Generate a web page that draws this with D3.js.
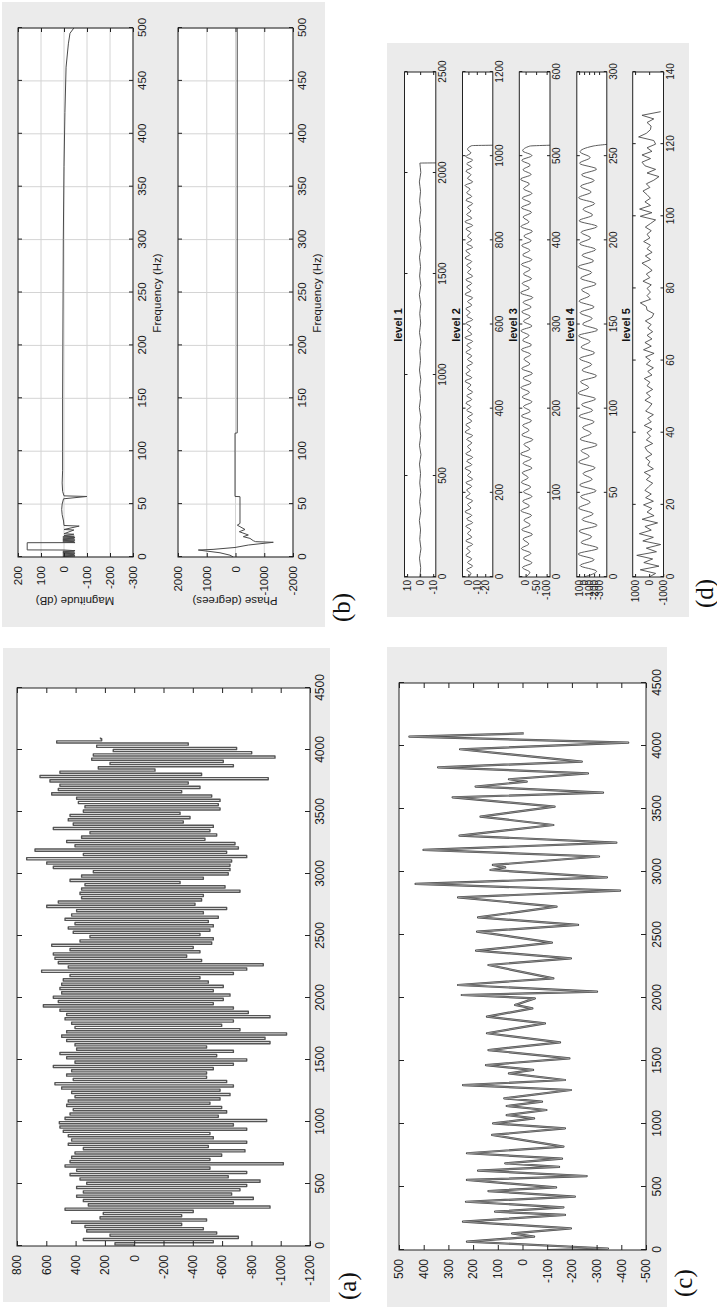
<!DOCTYPE html>
<html>
<head>
<meta charset="utf-8">
<script src="https://cdn.jsdelivr.net/npm/d3@7"></script>
<style>
body { margin: 0; background: #fff; }
</style>
</head>
<body>
<svg width="717" height="1308"></svg>
<script>
// (a) raw signal: alternating extremes, read bar by bar, evenly spaced in samples
var aLength = 4100;
var aSignal = [0,
  131,-540, 347,-711, 165,-563, 324,-472, 336,-324, 427,-494, 233,-324, 211,-403, 472,-927, 313,-677,
  347,-813, 393,-665, 347,-722, 393,-768, 324,-859, 370,-642, 438,-768, 393,-517, 472,-1018, 438,-517,
  427,-597, 404,-756, 347,-506, 450,-768, 427,-540, 450,-517, 484,-768, 507,-677, 511,-904, 472,-574,
  438,-631, 416,-597, 461,-517, 450,-586, 404,-654, 427,-586, 495,-677, 541,-631, 416,-494,
  461,-494, 427,-540, 552,-677, 404,-768, 461,-563, 507,-677, 393,-494, 404,-927, 461,-893, 495,-1040,
  461,-722, 404,-597, 427,-677, 472,-927, 461,-779, 507,-677, 620,-540, 518,-608, 552,-654, 495,-540,
  507,-608, 495,-506, 484,-449, 438,-677,
  632,-768, 450,-881, 518,-460, 541,-358, 552,-449, 438,-403, 563,-529, 370,-540, 302,-449, 416,-517,
  450,-540, 404,-506, 472,-574, 427,-472, 393,-631, 597,-415, 518,-460, 359,-472, 370,-722, 359,-620,
  336,-313, 438,-472, 359,-642, 279,-654, 552,-654, 597,-665, 734,-768, 347,-631, 677,-711, 404,-688,
  461,-483, 359,-563, 302,-517, 552,-540, 416,-335, 450,-381, 438,-313, 347,-586, 336,-574, 381,-586,
  393,-529, 563,-324, 518,-449, 507,-369, 575,-915, 643,-460, 507,-142, 245,-677, 165,-608, 290,-961,
  279,-802, 143,-699, 256,-369, 529,222, 230];
var aXTicks = d3.range(0, 4501, 500);
var aYTicks = d3.range(-1200, 801, 200);

// (b) magnitude and phase response [Hz, value]
var magPoints = [[0,-48],[0.6,5],[1.2,-48],[1.8,5],[2.4,-45],[3.0,5],[3.6,-48],[4.2,5],[4.8,-45],[5.4,5],[6.0,-48],
  [6.6,0],[6.7,160],[13.5,160],[13.6,-48],[14.2,5],[14.8,-45],[15.4,5],[16.0,-48],[16.6,5],[17.2,-45],[17.8,5],
  [18.4,-48],[19.0,5],[19.6,-45],[20.2,0],[21.5,-43],[22.0,0],[25.5,-43],[26.0,0],[29.2,-66],[29.8,0],
  [34,2],[40,8],[45,10],[50,8],[55,2],[57.2,-100],[57.8,0],[62,6],[70,8],[82,6],[100,6],[150,6],[200,5],
  [250,4],[300,3],[369,0],[420,-4],[463,-9],[485,-19],[495,-26],[500,-43]];
var phasePoints = [[0,76],[1.7,191],[4,539],[6.6,1293],[7.2,782],[9,17],[11.3,-446],[13.9,-1315],[14.5,-700],
  [15.4,-620],[17.6,-504],[19.2,-272],[20.8,-446],[23.9,-133],[26,-330],[30.1,-63],[31.7,-156],[57,-156],
  [57.3,17],[117,17],[117.3,-60],[500,-60]];
var freqTicks = d3.range(0, 501, 50);
var magTicks = [-300, -200, -100, 0, 100, 200];
var phaseTicks = [-2000, -1000, 0, 1000, 2000];

// (c) denoised signal: turning points [sample, value]
var cPeaks = [[0,-100],[12,-346],[66,225],[106,-47],[132,42],[172,-196],[225,241],[278,-172],[304,111],
  [339,-166],[383,229],[423,-212],[468,138],[497,-136],[556,225],[587,-260],[630,180],[660,-148],[688,70],
  [725,-160],[768,225],[821,-166],[913,123],[966,-172],[1005,119],[1045,-47],[1071,64],[1111,-97],[1143,64],
  [1177,-79],[1204,74],[1270,-196],[1309,241],[1349,-172],[1402,55],[1429,-43],[1468,148],[1521,-190],
  [1587,138],[1648,-152],[1720,144],[1799,-91],[1852,144],[1918,-40],[1945,30],[1997,-50],[2024,246],
  [2050,-302],[2103,261],[2156,-125],[2262,138],[2315,-196],[2376,188],[2439,-119],[2527,184],[2580,-225],
  [2640,180],[2725,-138],[2799,261],[2852,-395],[2905,433],[2958,-342],[3016,130],[3037,70],[3056,120],
  [3123,-310],[3175,401],[3233,-380],[3289,255],[3373,-125],[3440,170],[3519,-130],[3593,283],[3630,-326],
  [3678,190],[3717,-17],[3736,55],[3783,-265],[3831,342],[3876,-240],[3974,253],[4027,-428],[4074,458],[4100,-5]];
var cYTicks = d3.range(-500, 501, 100);

// (d) wavelet detail levels
var level1 = [0.2,-0.4,0.5,-0.6,0.3,-0.3,0.6,-0.5,0.4,-0.5,0.3,-0.3,0.5,-0.6,0.5,-0.4,0.3,-0.5,0.6,-0.3,0.4,-0.5,
  0.5,-0.3,0.3,-0.6,0.5,-0.4,0.3,-0.5,0.6,-0.5,0.4,-0.3,0.5,-0.6,0.3,-0.4,0.5,-0.5,0.4,-0.3,0.6,-0.5,0.2];
var level2 = [0,-3,2,-5,1,-4,3,-2,2,-5,3,-4,1,-3,3,-5,2,-4,4,-3,1,-5,3,-2,2,-4,3,-5,1,-3,4,-4,2,-5,3,-3,1,-4,2,-5,
  4,-2,3,-4,1,-5,2,-3,3,-4,2,-5,1,-3,4,-4,3,-2,2,-5,1,-4,3,-3,2,-5,4,-4,1,-3,3,-5,2,-2,3,-4,1,-5,4,-3,2,-4,3,-5,
  1,-3,2,-4,4,-2,3,-5,2,-4,1,-3,3,-5,4,-4,2,-3,1,-5,3,-4,2,-2,4,-5,1,-3,3,-4,2,-5,3,-3,1,-4];
var level3 = [0,-20,15,-30,10,-25,20,-15,12,-32,18,-22,8,-28,22,-18,14,-30,10,-24,20,-12,16,-30,12,-26,24,-20,8,-34,
  18,-16,14,-28,20,-22,10,-30,16,-18,22,-26,12,-32,18,-20,8,-24,20,-28,14,-16,22,-30,10,-22,18,-26,12,-34,24,-18,
  16,-28,10,-22,20,-30,14,-20,18,-26,8,-32,22,-16,12,-28,20,-24,16,-30,10,-18,24,-26,12,-22,18,-30,14,-20];
var level4 = [0,-250,80,-200,120,-280,60,-150,100,-260,40,-180,110,-120,70,-240,90,-160,20,-220,110,-100,60,-260,
  80,-140,30,-200,100,-170,50,-230,120,-90,70,-250,40,-150,90,-210,60,-120,110,-270,30,-160,80,-200,100,-110,50,
  -240,70,-150,120,-190,40,-230,90,-130,60,-260,100,-170,20,-210,110,-140,70,-200,50,-250,90,-120,80,-180];
var level5 = [0,-460,630,-700,380,-250,880,-520,200,-820,450,-300,700,-150,300,-600,500,-350,150,-200,
  400,-300,250,-150,300,50,-250,200,-100,350,-300,100,-50,250,-200,150,300,-250,200,-100,
  150,-200,350,-150,100,-300,250,0,-200,300,-100,200,-250,150,-50,350,-200,100,-300,200,
  -100,250,-350,400,-150,300,-200,150,-250,100,-140,270,-200,-330,150,200,630,-100,150,-90,
  150,-150,440,-50,200,-210,100,510,-100,270,-210,150,-90,390,-50,150,-150,270,-100,-460,
  630,-200,680,-100,300,-90,150,440,-50,200,-330,-700,150,-460,300,510,-100,510,-200,150,
  -460,-330,750,200,-90,-140,150,-330,510,-820];
var levelNames = ["level 1", "level 2", "level 3", "level 4", "level 5"];
var levelLength = [2050, 1026, 513, 257, 129];
var levelTail = [-12, -29, -116, -454, null];
var levelXMax = [2500, 1200, 600, 300, 140];
var levelXStep = [500, 200, 100, 50, 20];
var levelYRange = [[-12, 12], [-29, 7], [-116, 30], [-454, 146], [-1020, 1170]];
var levelYTicks = [[-10, 0, 10], [-20, -10, 0], [-100, -50, 0], [-300, -200, -100, 0, 100], [-1000, 0, 1000]];

var svg = d3.select("svg");
// the whole figure is a landscape page turned a quarter left
var fig = svg.append("g").attr("transform", "translate(0,1308) rotate(-90)");
var sansFont = "'Liberation Sans', Arial, Helvetica, sans-serif",
    serifFont = "'Liberation Serif', 'Times New Roman', serif";
var clipCount = 0;

function grayBox(x0, y0, x1, y1) {
    fig.append("rect")
        .attr("x", x0).attr("y", y0)
        .attr("width", x1 - x0).attr("height", y1 - y0)
        .attr("fill", "#ebebeb");
}

function makeAxes(o) {
    var x = d3.scaleLinear().domain(o.xd).range([o.left, o.right]);
    var y = d3.scaleLinear().domain(o.yd).range([o.bottom, o.top]);
    var g = fig.append("g");
    g.append("rect")
        .attr("x", o.left).attr("y", o.top)
        .attr("width", o.right - o.left).attr("height", o.bottom - o.top)
        .attr("fill", "#fff");

    if (o.grid) {
        g.selectAll(".gx").data(o.xt).enter().append("line")
            .attr("x1", x).attr("x2", x).attr("y1", o.top).attr("y2", o.bottom)
            .attr("stroke", "#d4d4d4").attr("stroke-width", 1);
        g.selectAll(".gy").data(o.yt).enter().append("line")
            .attr("x1", o.left).attr("x2", o.right).attr("y1", y).attr("y2", y)
            .attr("stroke", "#d4d4d4").attr("stroke-width", 1);
    }

    var id = "clip" + (clipCount++);
    g.append("clipPath").attr("id", id).append("rect")
        .attr("x", o.left).attr("y", o.top - 1)
        .attr("width", o.right - o.left).attr("height", o.bottom - o.top + 2);
    var plot = g.append("g").attr("clip-path", "url(#" + id + ")");

    var ax = g.append("g");
    ax.append("g").attr("transform", "translate(0," + o.bottom + ")")
        .call(d3.axisBottom(x).tickValues(o.xt).tickSize(-o.tick).tickPadding(o.xpad).tickFormat(String));
    ax.append("g").attr("transform", "translate(0," + o.top + ")")
        .call(d3.axisTop(x).tickValues(o.xt).tickSize(-o.tick).tickFormat(""));
    ax.append("g").attr("transform", "translate(" + o.left + ",0)")
        .call(d3.axisLeft(y).tickValues(o.yt).tickSize(-o.tick).tickPadding(o.ypad).tickFormat(String));
    ax.append("g").attr("transform", "translate(" + o.right + ",0)")
        .call(d3.axisRight(y).tickValues(o.yt).tickSize(-o.tick).tickFormat(""));
    ax.selectAll(".domain").remove();
    ax.selectAll("g").attr("font-size", o.fs).attr("font-family", sansFont);
    ax.selectAll(".tick line").attr("stroke", "#222");
    ax.selectAll(".tick text").attr("fill", "#1a1a1a");

    g.append("rect")
        .attr("x", o.left).attr("y", o.top)
        .attr("width", o.right - o.left).attr("height", o.bottom - o.top)
        .attr("fill", "none").attr("stroke", "#222").attr("stroke-width", 1);

    return {x: x, y: y, plot: plot};
}

function drawLine(axes, pts, color, width, curve) {
    var line = d3.line()
        .curve(curve || d3.curveLinear)
        .x(function(d) { return axes.x(d[0]); })
        .y(function(d) { return axes.y(d[1]); });
    axes.plot.append("path")
        .datum(pts)
        .attr("d", line)
        .attr("fill", "none")
        .attr("stroke", color)
        .attr("stroke-width", width)
        .attr("stroke-linejoin", "round");
}

function panelLabel(txt, x, y) {
    fig.append("text")
        .attr("x", x).attr("y", y)
        .attr("font-family", serifFont)
        .attr("font-size", 25)
        .attr("fill", "#111")
        .text(txt);
}

// ---------- (a) ----------
grayBox(6, 3, 660, 330);
var axA = makeAxes({xd: [0, 4500], yd: [-1200, 800], left: 62, right: 620, top: 17, bottom: 310,
    xt: aXTicks, yt: aYTicks, tick: 5, xpad: 5, ypad: 9, fs: 12});
var aStep = aLength / (aSignal.length - 1);
var aPts = aSignal.map(function(v, i) { return [i * aStep, v]; });
drawLine(axA, aPts, "#555", 1.4, d3.curveStep);
panelLabel("(a)", 8, 356);

// ---------- (b) ----------
grayBox(681, 2, 1306, 325);
var axMag = makeAxes({xd: [0, 500], yd: [-300, 200], left: 751, right: 1280, top: 18, bottom: 133,
    xt: freqTicks, yt: magTicks, tick: 4, xpad: 5, ypad: 9, fs: 11.5, grid: true});
drawLine(axMag, magPoints, "#4a4a4a", 1);
var axPh = makeAxes({xd: [0, 500], yd: [-2000, 2000], left: 751, right: 1280, top: 178, bottom: 293,
    xt: freqTicks, yt: phaseTicks, tick: 4, xpad: 5, ypad: 9, fs: 11.5, grid: true});
drawLine(axPh, phasePoints, "#4a4a4a", 1);

[[161, "Frequency (Hz)"], [321, "Frequency (Hz)"]].forEach(function(d) {
    fig.append("text").attr("x", 1015).attr("y", d[0])
        .attr("text-anchor", "middle").attr("font-family", sansFont).attr("font-size", 11.5)
        .attr("fill", "#1a1a1a").text(d[1]);
});
[[75, "Magnitude (dB)"], [235, "Phase (degrees)"]].forEach(function(d) {
    fig.append("text").attr("transform", "translate(711," + d[0] + ") rotate(-90)")
        .attr("text-anchor", "middle").attr("font-family", sansFont).attr("font-size", 11.5)
        .attr("fill", "#1a1a1a").text(d[1]);
});
panelLabel("(b)", 686, 350);

// ---------- (c) ----------
grayBox(1, 387, 661, 667);
var axC = makeAxes({xd: [0, 4500], yd: [-500, 500], left: 58, right: 625, top: 399, bottom: 646,
    xt: aXTicks, yt: cYTicks, tick: 5, xpad: 6, ypad: 9, fs: 12});
drawLine(axC, cPeaks, "#4c4c4c", 2.2);
drawLine(axC, cPeaks, "#a8a8a8", 0.7);
panelLabel("(c)", 11, 692);

// ---------- (d) ----------
grayBox(691, 387, 1265, 689);
var levelTop = [404.5, 462.5, 519.3, 576.8, 632.7],
    levelBottom = [435.8, 492.8, 550, 606.8, 663.5];
[level1, level2, level3, level4, level5].forEach(function(vals, i) {
    var axL = makeAxes({xd: [0, levelXMax[i]], yd: levelYRange[i], left: 731, right: 1236,
        top: levelTop[i], bottom: levelBottom[i],
        xt: d3.range(0, levelXMax[i] + 1, levelXStep[i]), yt: levelYTicks[i],
        tick: 3, xpad: 3, ypad: 3, fs: 10});
    var n = vals.length, len = levelLength[i];
    var pts = vals.map(function(v, k) {
        return [k * (levelTail[i] === null ? len : len - 1) / (n - 1), v];
    });
    if (levelTail[i] !== null) pts.push([len, levelTail[i]]);
    drawLine(axL, pts, "#4a4a4a", 0.9, levelTail[i] === null ? d3.curveLinear : d3.curveMonotoneX);
    fig.append("text")
        .attr("x", 983).attr("y", levelTop[i] - 2.5)
        .attr("text-anchor", "middle").attr("font-family", sansFont)
        .attr("font-size", 11).attr("font-weight", "bold").attr("fill", "#111")
        .text(levelNames[i]);
});
panelLabel("(d)", 700, 713);
</script>
</body>
</html>
